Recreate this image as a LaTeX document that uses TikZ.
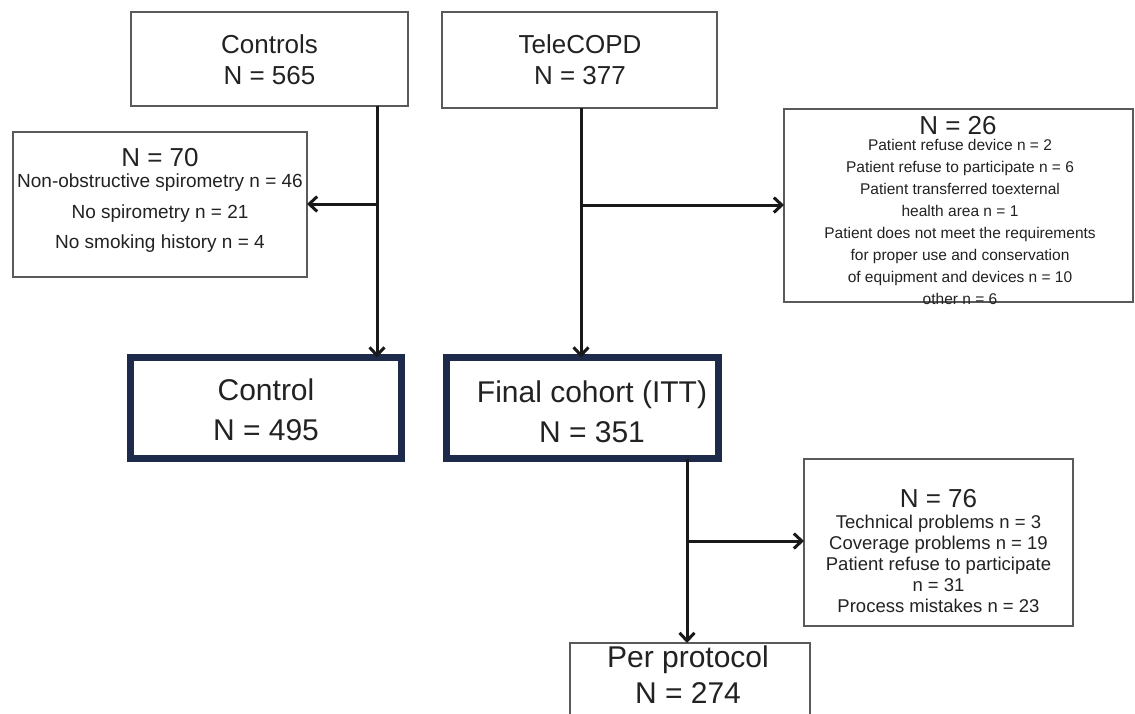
\documentclass[tikz,border=0pt]{standalone}
\usepackage{fontspec}
\setmainfont{Liberation Sans}
\usetikzlibrary{arrows.meta}
\definecolor{boxgray}{HTML}{5A5A5A}
\definecolor{navy}{HTML}{1E2A4A}
\definecolor{txt}{HTML}{222222}
\begin{document}
\begin{tikzpicture}[x=1pt,y=-1pt,
  thinbox/.style={draw=boxgray,line width=2pt,fill=white,inner sep=0pt,outer sep=0pt},
  thickbox/.style={draw=navy,line width=7pt,fill=white,inner sep=0pt,outer sep=0pt},
  lbl/.style={text=txt,align=center,inner sep=0pt},
  conn/.style={line width=3pt,draw=black!90},
  arr/.style={conn,-{Straight Barb[length=8pt,width=15pt]}}]
\fill[white] (0,0) rectangle (1135,713);
\useasboundingbox (0,0) rectangle (1135,713);
\clip (0,0) rectangle (1135,713);
% boxes
\node[thinbox,minimum width=277pt,minimum height=94pt] (controls) at (269.5,59) {};
\node[thinbox,minimum width=275pt,minimum height=96pt] (telecopd) at (579.5,60) {};
\node[thinbox,minimum width=294pt,minimum height=145pt] (n70) at (160,204.5) {};
\node[thinbox,minimum width=349pt,minimum height=193pt] (n26) at (958.5,205.5) {};
\node[thickbox,minimum width=271pt,minimum height=101pt] (control) at (266,408) {};
\node[thickbox,minimum width=272pt,minimum height=101pt] (final) at (582.5,408) {};
\node[thinbox,minimum width=269pt,minimum height=167pt] (n76) at (938.5,542.5) {};
\node[thinbox,minimum width=240pt,minimum height=87pt] (pp) at (690,686.5) {};
% texts
\node[lbl,font=\fontsize{26}{31}\selectfont] (tcontrols) at (269.5,60) {Controls\\N = 565};
\node[lbl,font=\fontsize{26}{31}\selectfont] (ttele) at (580,60) {TeleCOPD\\N = 377};
\node[lbl,font=\fontsize{26}{31}\selectfont] (h70) at (160,158) {N = 70};
\node[lbl,font=\fontsize{19}{30.5}\selectfont] (l70) at (160,213.5) {Non-obstructive spirometry n = 46\\No spirometry n = 21\\No smoking history n = 4};
\node[lbl,font=\fontsize{26}{31}\selectfont] (h26) at (958,126) {N = 26};
\node[lbl,font=\fontsize{15.5}{21.9}\selectfont] (l26) at (960,222) {Patient refuse device n = 2\\Patient refuse to participate n = 6\\Patient transferred toexternal\\health area n = 1\\Patient does not meet the requirements\\for proper use and conservation\\of equipment and devices n = 10\\other n = 6};
\node[lbl,font=\fontsize{30}{40}\selectfont] (tcontrol) at (266,410) {Control\\N = 495};
\node[lbl,font=\fontsize{30}{40}\selectfont] (tfinal) at (592,412) {Final cohort (ITT)\\N = 351};
\node[lbl,font=\fontsize{26}{31}\selectfont] (h76) at (938.5,499) {N = 76};
\node[lbl,font=\fontsize{18.5}{21}\selectfont] (l76) at (938.5,564) {Technical problems n = 3\\Coverage problems n = 19\\Patient refuse to participate\\n = 31\\Process mistakes n = 23};
\node[lbl,font=\fontsize{30}{36}\selectfont] (tpp) at (688,675) {Per protocol\\N = 274};
% connectors
\coordinate (j1) at (377,204);
\coordinate (j2) at (581,205);
\coordinate (j3) at (687,541);
\draw[arr] (controls.south -| j1) -- (control.north -| j1);
\draw[arr] (j1) -- (n70.east |- j1);
\draw[arr] (telecopd.south -| j2) -- (final.north -| j2);
\draw[arr] (j2) -- (n26.west |- j2);
\draw[arr] (final.south -| j3) -- (pp.north -| j3);
\draw[arr] (j3) -- (n76.west |- j3);
\end{tikzpicture}
\end{document}
